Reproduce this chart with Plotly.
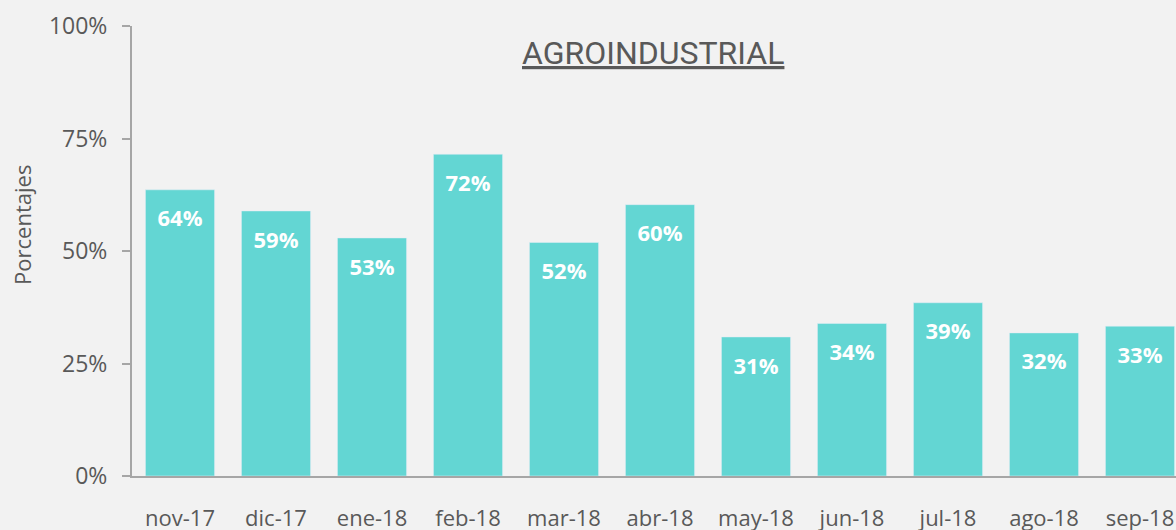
import plotly.graph_objects as go

months = ["nov-17", "dic-17", "ene-18", "feb-18", "mar-18", "abr-18",
          "may-18", "jun-18", "jul-18", "ago-18", "sep-18"]
values = [63.6, 58.9, 52.9, 71.5, 51.9, 60.3, 30.9, 33.9, 38.5, 31.8, 33.3]
labels = ["64%", "59%", "53%", "72%", "52%", "60%", "31%", "34%", "39%", "32%", "33%"]
y_ticks = [0, 25, 50, 75, 100]
y_tick_text = ["0%", "25%", "50%", "75%", "100%"]

BAR = "#63D6D3"
GREY = "#595959"
AXIS = "#A6A6A6"
BG = "#F2F2F2"
LABEL_OFFSET = 6.9  # label sits a little below the bar top (in % units)

L, T, B = 132, 26, 54
PW = 1176 - L

fig = go.Figure()
fig.add_trace(go.Bar(x=months, y=values, marker_color=BAR, hoverinfo="skip"))
fig.add_trace(go.Scatter(
    x=months, y=[v - LABEL_OFFSET for v in values], text=labels, mode="text",
    textposition="middle center",
    textfont=dict(family="Open Sans", size=22, color="white", weight="bold"),
    hoverinfo="skip", cliponaxis=False))

fig.update_layout(
    width=1176, height=530,
    paper_bgcolor=BG, plot_bgcolor=BG,
    margin=dict(l=L, r=0, t=T, b=B),
    showlegend=False, bargap=0.28,
    font=dict(family="Open Sans", color=GREY, size=22),
    annotations=[
        dict(text="<u>AGROINDUSTRIAL</u>", xref="paper", yref="paper",
             x=(653 - L) / PW, y=0.94,
             xanchor="center", yanchor="middle", showarrow=False,
             font=dict(family="Roboto", size=32, color=GREY)),
        dict(text="Porcentajes", xref="paper", yref="paper",
             x=(22 - L) / PW, y=0.558, xanchor="center", yanchor="middle",
             textangle=-90, showarrow=False,
             font=dict(family="Open Sans", size=22, color=GREY)),
    ],
)
fig.update_xaxes(range=[-0.5, -0.5 + PW / 96], showline=True, linecolor=AXIS, linewidth=2,
                 ticks="", showgrid=False, zeroline=False, automargin=False,
                 ticklabelstandoff=22, tickfont=dict(size=22, color=GREY))
fig.update_yaxes(range=[0, 100], tickvals=y_ticks, ticktext=y_tick_text,
                 showline=True, linecolor=AXIS, linewidth=2, ticks="outside",
                 ticklen=8, tickwidth=2, tickcolor=AXIS, showgrid=False,
                 zeroline=False, automargin=False, ticklabelstandoff=10,
                 tickfont=dict(size=23, color=GREY))

fig.write_html("out.html",
               config={"displayModeBar": False},
               post_script="document.body.style.margin='0';"
                           "document.body.style.background='#F2F2F2';"
                           "document.body.style.overflow='hidden';")
